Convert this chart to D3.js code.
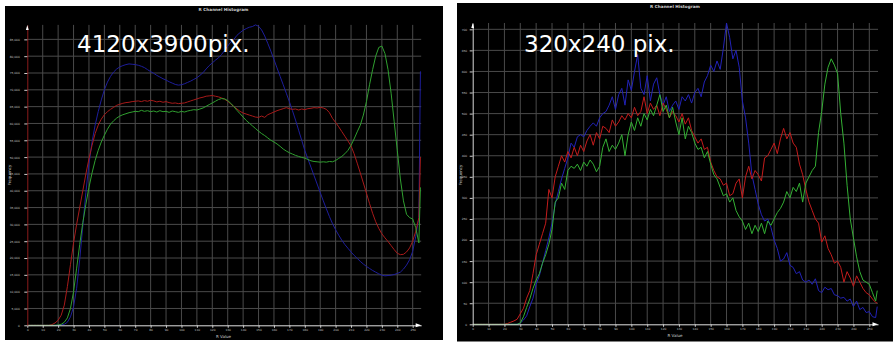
<!DOCTYPE html>
<html><head><meta charset="utf-8">
<script src="https://cdn.jsdelivr.net/npm/d3@7"></script>
<style>html,body{margin:0;padding:0;background:#fff;} svg{display:block}</style>
</head><body>
<svg id="c" width="896" height="342"></svg>
<script>
const bins = [0,2,4,6,8,10,12,14,16,18,20,22,24,26,28,30,32,34,36,38,40,42,44,46,48,50,52,54,56,58,
60,62,64,66,68,70,72,74,76,78,80,82,84,86,88,90,92,94,96,98,100,102,104,106,108,110,112,114,116,118,
120,122,124,126,128,130,132,134,136,138,140,142,144,146,148,150,152,154,156,158,160,162,164,166,168,170,172,174,176,178,
180,182,184,186,188,190,192,194,196,198,200,202,204,206,208,210,212,214,216,218,220,222,224,226,228,230,232,234,236,238,
240,242,244,246,248,250,252,254,255];
const xTicks = [0,10,20,30,40,50,60,70,80,90,100,110,120,130,140,150,160,170,180,190,200,210,220,230,240,250];
const leftYTicks = [0,5000,10000,15000,20000,25000,30000,35000,40000,45000,50000,55000,60000,65000,70000,75000,80000,85000];
const rightYTicks = [0,50,100,150,200,250,300,350,400,450,500,550,600,650,700];

const titleText = "R Channel Histogram";
const xLabelText = "R Value";
const yLabelText = "Frequency";
const leftNote = "4120x3900pix.";
const rightNote = "320x240 pix.";

// Left panel (4120x3900)
const leftRed = [0,0,0,0,0,0,0,0,200,700,
1500,3000,6000,11500,18000,24500,30000,35000,40000,45000,
49500,53500,57000,59500,61300,62600,63500,64200,64800,65400,
65700,66000,66200,66300,66500,66600,66700,66500,66800,66600,
66900,66700,66400,66600,66300,66500,66200,66000,66100,65900,
66000,66100,66400,66700,67000,67300,67600,67800,68100,68200,
68300,68100,67900,67600,67200,66600,65800,65000,64300,63600,
63100,62800,62500,62200,61900,61800,62200,61800,62600,63000,
63400,63800,64100,64400,64700,64400,64200,64300,64000,64300,
64100,64400,64500,64700,64600,64800,64600,64200,63200,61500,
60300,59000,57600,56200,54800,53300,51000,48200,45300,42300,
39300,36200,33300,30800,28800,27200,26000,24900,23700,22500,
21400,21000,21100,21800,23000,25000,28000,32000,
50000];
const leftGreen = [0,0,0,0,0,0,0,0,0,0,
100,300,900,2200,5000,10000,17000,24000,30500,36000,
41000,45300,49000,52000,54500,56500,58300,59800,60800,61600,
62200,62600,62900,63200,63400,63600,63500,63900,63600,63800,
63500,63700,63400,63800,63500,63600,63300,63700,63500,63300,
63600,63400,63700,63900,64100,64000,64300,64600,65100,65600,
66100,66600,67100,67400,67300,66800,66000,65000,63900,62900,
61900,60900,60100,59300,58500,57700,57000,56400,55700,55000,
54500,53900,53200,52400,51800,51300,50900,50500,50200,49900,
49700,49300,48900,48700,48600,48500,48600,48500,48700,48600,
49000,49600,50200,51000,52000,53500,55400,57500,59500,62500,
66500,71500,76000,80000,82600,83000,80800,76000,69000,60500,
52000,43500,37000,33000,32000,31600,29000,24500,
41000];
const leftBlue = [0,0,0,0,0,0,0,0,0,0,
0,100,300,900,2500,5500,11000,19500,29500,39500,
48000,54500,59500,63500,67000,70000,72300,74000,75300,76200,
76800,77200,77500,77700,77600,77500,77300,77000,76600,76000,
75400,74900,74300,73800,73300,72900,72400,72000,71600,71400,
71500,71800,72200,72600,73100,73600,74300,75100,76200,77200,
78000,78800,79500,80500,81700,83000,84200,85000,86200,87000,
87700,88200,88600,88800,89300,88900,87800,86000,83800,81500,
79000,76500,74000,71500,69000,66500,63800,61000,58000,55000,
52000,49500,47000,44500,42000,39500,37000,34600,32300,30200,
28400,26800,25300,24000,22900,21800,20800,19900,19000,18200,
17500,16900,16300,15800,15300,14900,14700,14800,14900,15100,
15400,15800,16700,17900,19500,22000,26500,32000,
75500];

// Right panel (320x240)
const rightRed = [0,0,0,0,0,0,0,0,0,0,
0,2,5,8,12,25,38,62,80,120,
165,190,215,240,320,300,350,375,400,385,
410,395,420,400,425,410,435,450,425,455,
440,470,465,455,485,470,480,495,485,500,
490,515,495,505,540,500,525,510,520,495,
525,510,490,505,495,480,500,475,490,460,
445,430,440,415,420,385,365,350,345,330,
335,305,310,335,345,300,350,375,345,365,
355,340,395,400,415,430,405,440,465,440,
455,430,420,380,355,320,290,270,250,240,
195,210,180,165,145,150,135,100,125,110,
90,115,100,85,75,70,60,52,
50];
const rightGreen = [0,0,0,0,0,0,0,0,0,0,
0,0,0,0,0,3,18,40,60,85,
105,120,145,165,190,225,290,300,335,320,
365,375,370,380,365,385,375,390,380,362,
375,420,440,410,425,415,430,450,400,450,
480,460,490,470,500,485,510,495,520,545,
505,520,490,515,480,450,490,440,470,455,
430,415,420,395,410,380,355,345,325,305,
310,290,300,270,255,245,225,240,215,235,
220,240,215,245,235,250,265,275,290,315,
300,325,315,335,290,335,350,365,375,455,
505,570,610,630,615,595,500,430,330,250,
205,160,125,105,100,95,75,55,
80];
const rightBlue = [0,0,0,0,0,0,0,0,0,0,
0,0,0,0,0,3,10,20,42,62,
95,115,145,175,205,240,285,315,345,370,
395,430,420,445,450,445,460,470,478,470,
490,500,505,520,540,510,545,560,520,580,
555,600,640,560,545,590,530,570,585,545,
520,540,505,520,530,510,540,530,545,525,
550,560,540,575,590,615,600,625,605,655,
715,680,630,650,610,530,490,430,355,320,
285,260,245,250,230,200,180,150,155,170,
140,135,120,125,105,100,105,95,108,80,
75,88,82,85,70,68,62,64,55,60,
42,55,35,40,28,30,18,16,
42];

const svg = d3.select("#c");
const FONT = "'DejaVu Sans', sans-serif";

function drawPanel(o) {
  const g = svg.append("g");
  g.append("rect").attr("x", o.bx).attr("y", o.by).attr("width", o.bw).attr("height", o.bh).attr("fill", "#000");

  const yMax = d3.max([o.red, o.green, o.blue].flat());
  const xEnd = 255.5;
  const x = d3.scaleLinear().domain([0, xEnd]).range([o.x0, o.x0 + xEnd * o.kx]);
  const y = d3.scaleLinear().domain([0, yMax]).range([o.y0, o.y0 - yMax * o.ky]);

  // grid
  g.append("g").selectAll("line").data(xTicks.slice(1)).join("line")
    .attr("x1", d => x(d)).attr("x2", d => x(d))
    .attr("y1", y(0)).attr("y2", y(yMax))
    .attr("stroke", "#4a4a4a").attr("stroke-width", 1);
  g.append("g").selectAll("line").data(o.yTicks.slice(1)).join("line")
    .attr("x1", x(0)).attr("x2", x(xEnd))
    .attr("y1", d => y(d)).attr("y2", d => y(d))
    .attr("stroke", "#4a4a4a").attr("stroke-width", 1);

  // series
  const line = d3.line().x((d, i) => x(bins[i])).y(d => y(d));
  [[o.blue, o.cb], [o.red, o.cr], [o.green, o.cg]].forEach(([s, c]) => {
    g.append("path").attr("d", line(s)).attr("fill", "none")
      .attr("stroke", c).attr("stroke-width", 1).attr("stroke-linejoin", "round");
  });

  // x axis
  const ax = g.append("g").attr("transform", `translate(0,${y(0)})`)
    .call(d3.axisBottom(x).tickValues(xTicks).tickSize(2.5).tickPadding(1).tickSizeOuter(0));
  ax.attr("font-size", 2.9).attr("font-family", FONT);
  ax.select(".domain").attr("stroke", "#e0e0e0");
  ax.selectAll(".tick line").attr("stroke", "#cfcfcf");
  ax.selectAll(".tick text").attr("fill", "#c0c0c0");

  // y axis
  const ay = g.append("g").attr("transform", `translate(${x(0)},0)`)
    .call(d3.axisLeft(y).tickValues(o.yTicks).tickSize(3).tickPadding(o.yPad).tickSizeOuter(0));
  ay.attr("font-size", 2.9).attr("font-family", FONT);
  ay.select(".domain").attr("stroke", o.yAxisColor);
  ay.selectAll(".tick line").attr("stroke", "#cfcfcf");
  ay.selectAll(".tick text").attr("fill", "#c0c0c0");

  // arrows
  const tx = x(0), ty = y(yMax);
  g.append("path").attr("d", `M${tx},${ty} L${tx - 1.4},${ty + 5} L${tx + 1.4},${ty + 5} Z`).attr("fill", "#fff");
  const rx = x(xEnd), ry = y(0);
  g.append("path").attr("d", `M${rx},${ry} L${rx - 5.5},${ry - 2} L${rx - 5.5},${ry + 2} Z`).attr("fill", "#fff");

  // texts
  g.append("text").attr("x", o.titleX).attr("y", o.titleY).attr("text-anchor", "middle")
    .attr("font-family", FONT).attr("font-size", 4.2).attr("font-weight", "bold").attr("fill", "#cfcfcf").text(titleText);
  g.append("text").attr("x", o.titleX).attr("y", o.xlabY).attr("text-anchor", "middle")
    .attr("font-family", FONT).attr("font-size", 4).attr("fill", "#c8c8c8").text(xLabelText);
  g.append("text").attr("transform", `translate(${o.ylabX},${o.ylabY}) rotate(-90)`).attr("text-anchor", "middle")
    .attr("font-family", FONT).attr("font-size", 4).attr("fill", "#c8c8c8").text(yLabelText);
  g.append("text").attr("x", o.noteX).attr("y", o.noteY)
    .attr("font-family", FONT).attr("font-size", 23).attr("fill", "#ffffff").text(o.note);
}

drawPanel({
  bx: 5, by: 6, bw: 438, bh: 334,
  x0: 27.3, kx: 1.5416, y0: 325.3, ky: 16.82 / 5000,
  yTicks: leftYTicks, yPad: 4.5, yAxisColor: "#8a1c1c",
  red: leftRed, green: leftGreen, blue: leftBlue,
  cr: "#a81a1a", cg: "#30a030", cb: "#1e1e9c",
  titleX: 223.5, titleY: 11, xlabY: 337.8, ylabX: 11.3, ylabY: 175,
  note: leftNote, noteX: 77, noteY: 51.5
});
drawPanel({
  bx: 457, by: 3, bw: 436, bh: 338.5,
  x0: 472.7, kx: 1.5864, y0: 324.3, ky: 21.07 / 50,
  yTicks: rightYTicks, yPad: 2.5, yAxisColor: "#d8d8d8",
  red: rightRed, green: rightGreen, blue: rightBlue,
  cr: "#c41c1c", cg: "#34b034", cb: "#2222b8",
  titleX: 675, titleY: 7.5, xlabY: 337.3, ylabX: 461.5, ylabY: 175,
  note: rightNote, noteX: 524, noteY: 51.5
});
</script>
</body></html>
